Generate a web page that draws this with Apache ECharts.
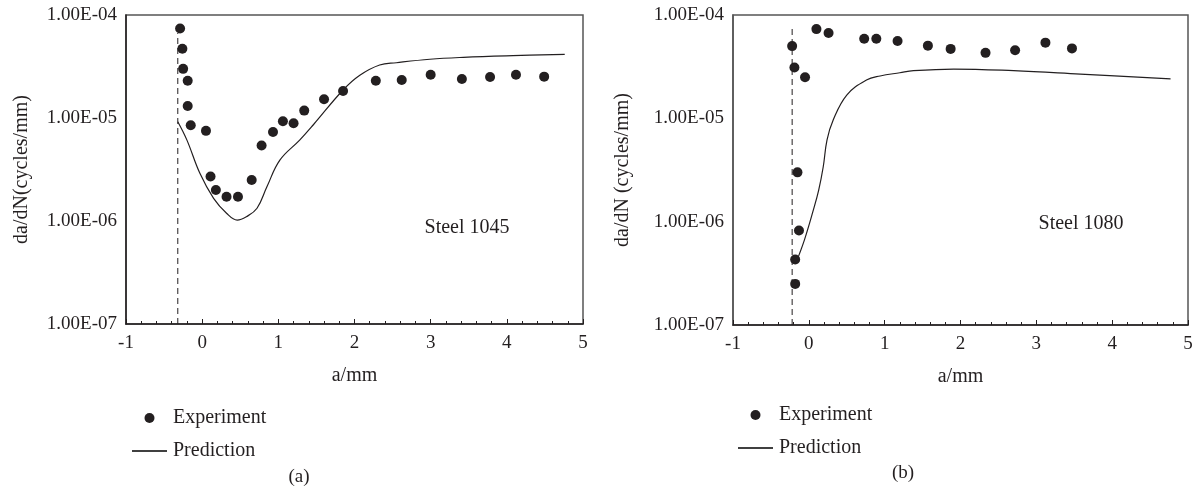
<!DOCTYPE html>
<html>
<head>
<meta charset="utf-8">
<script src="https://cdn.jsdelivr.net/npm/echarts@6/dist/echarts.min.js"></script>
<style>
html,body{margin:0;padding:0;background:#fff;}
#c{width:1202px;height:500px;}
</style>
</head>
<body>
<div id="c"></div>
<script>
// ---- Data ----
const xTickLabels = ['-1','0','1','2','3','4','5'];
const yTickLabels = ['1.00E-07','1.00E-06','1.00E-05','1.00E-04'];

// (a) Steel 1045
const leftExpA = [-0.29,-0.26,-0.25,-0.19,-0.19,-0.15,0.05,0.11,0.18,0.32,0.47,0.65,0.78,0.93,1.06,1.2,1.34,1.6,1.85,2.28,2.62,3.0,3.41,3.78,4.12,4.49];
const leftExpRate = [7.4e-5,4.7e-5,3.0e-5,2.3e-5,1.31e-5,8.5e-6,7.5e-6,2.7e-6,2.0e-6,1.72e-6,1.72e-6,2.5e-6,5.4e-6,7.3e-6,9.3e-6,8.9e-6,1.18e-5,1.52e-5,1.83e-5,2.3e-5,2.34e-5,2.63e-5,2.39e-5,2.5e-5,2.63e-5,2.52e-5];
const leftPredA = [-0.32,-0.2,-0.03,0.15,0.32,0.46,0.58,0.72,0.85,1.02,1.28,1.46,1.85,2.07,2.33,2.55,2.99,3.43,4.08,4.76];
const leftPredRate = [9.2e-6,6.1e-6,2.9e-6,1.66e-6,1.19e-6,1.02e-6,1.1e-6,1.33e-6,2.15e-6,3.9e-6,6.1e-6,8.6e-6,1.87e-5,2.6e-5,3.27e-5,3.44e-5,3.72e-5,3.88e-5,4.03e-5,4.15e-5];
const leftDashA = [-0.32,-0.32];
const leftDashRate = [1e-7,6.7e-5];

// (b) Steel 1080
const rightExpA = [-0.18,-0.18,-0.13,-0.15,-0.19,-0.22,-0.05,0.1,0.26,0.73,0.89,1.17,1.57,1.87,2.33,2.72,3.12,3.47];
const rightExpRate = [2.5e-7,4.3e-7,8.2e-7,3.0e-6,3.1e-5,5.0e-5,2.5e-5,7.3e-5,6.7e-5,5.9e-5,5.9e-5,5.6e-5,5.05e-5,4.7e-5,4.3e-5,4.55e-5,5.4e-5,4.75e-5];
const rightPredA = [-0.17,-0.06,0.06,0.13,0.19,0.24,0.32,0.5,0.76,0.94,1.2,1.38,1.91,2.7,3.58,4.77];
const rightPredRate = [4.0e-7,6.6e-7,1.3e-6,2.02e-6,3.4e-6,6.2e-6,9.6e-6,1.68e-5,2.35e-5,2.57e-5,2.76e-5,2.89e-5,3.0e-5,2.89e-5,2.68e-5,2.41e-5];
const rightDashA = [-0.22,-0.22];
const rightDashRate = [1e-7,7.5e-5];

const seriesNames = ['Experiment','Prediction'];
const panelLabels = ['Steel 1045','Steel 1080'];
const panelTags = ['(a)','(b)'];
const yTitles = ['da/dN(cycles/mm)','da/dN (cycles/mm)'];
const xTitle = 'a/mm';

// ---- Build ----
const FONT = '"Liberation Serif", "Times New Roman", serif';
const INK = '#231f20';
const zip = (a,b) => a.map((v,i)=>[v,b[i]]);

function xAxisCfg(gi){
  return {
    gridIndex: gi, type:'value', min:-1, max:5, interval:1,
    name: xTitle, nameLocation:'middle', nameGap:42,
    nameTextStyle:{fontFamily:FONT,fontSize:20,color:INK},
    axisLine:{onZero:false,lineStyle:{color:INK,width:1.5}},
    axisTick:{inside:true,length:5,lineStyle:{color:INK}},
    minorTick:{show:true,splitNumber:5,length:3,lineStyle:{color:INK}},
    splitLine:{show:false},
    axisLabel:{fontFamily:FONT,fontSize:19,color:INK,margin:10,
      formatter:(v)=>{const i=Math.round(v+1);return xTickLabels[i]!==undefined?xTickLabels[i]:'';}}
  };
}
function yAxisCfg(gi){
  return {
    gridIndex: gi, type:'log', logBase:10, min:1e-7, max:1e-4,
    name: yTitles[gi], nameLocation:'middle', nameGap: gi===0?94:100, nameRotate:90,
    nameTextStyle:{fontFamily:FONT,fontSize:20,color:INK},
    axisLine:{show:true,onZero:false,lineStyle:{color: gi===0?INK:'#555',width:1.5}},
    axisTick:{show:false},
    splitLine:{show:false},
    axisLabel:{fontFamily:FONT,fontSize:19,color:INK,margin:9,
      formatter:(v)=>{const i=Math.round(Math.log10(v))+7;return yTickLabels[i]!==undefined?yTickLabels[i]:'';}}
  };
}
function seriesFor(gi, expA, expR, predA, predR, dashA, dashR){
  return [
    {name:seriesNames[0],type:'scatter',xAxisIndex:gi,yAxisIndex:gi,symbol:'circle',symbolSize:10,
     itemStyle:{color:INK,opacity:1},data:zip(expA,expR),z:5},
    {name:seriesNames[1],type:'line',xAxisIndex:gi,yAxisIndex:gi,symbol:'none',smooth:0.4,
     lineStyle:{color:INK,width:1.2},itemStyle:{color:INK},data:zip(predA,predR),z:4},
    {name:'dash'+gi,type:'line',xAxisIndex:gi,yAxisIndex:gi,symbol:'none',
     lineStyle:{color:INK,width:1,type:[6,4]},data:zip(dashA,dashR),z:3,silent:true}
  ];
}
function legendCfg(left, top){
  return {
    orient:'vertical', left:left, top:top, itemWidth:35, itemHeight:10, itemGap:13,
    data: [
      {name:seriesNames[0], icon:'circle', itemStyle:{color:INK,opacity:1}},
      {name:seriesNames[1], icon:'path://M0,0H35V1.6H0Z', itemStyle:{color:'#000',opacity:1}}
    ],
    selectedMode:false,
    textStyle:{fontFamily:FONT,fontSize:20,color:INK,padding:[0,0,0,1]}
  };
}

const option = {
  animation:false,
  backgroundColor:'#fff',
  grid:[
    {left:126,top:15,width:457,height:309,show:true,borderColor:'#555',borderWidth:1.5,containLabel:false},
    {left:733,top:15,width:455,height:310,show:true,borderColor:'#555',borderWidth:1.5,containLabel:false}
  ],
  xAxis:[xAxisCfg(0),xAxisCfg(1)],
  yAxis:[yAxisCfg(0),yAxisCfg(1)],
  legend:[legendCfg(127,403),legendCfg(733,400)],
  series:[].concat(
    seriesFor(0,leftExpA,leftExpRate,leftPredA,leftPredRate,leftDashA,leftDashRate),
    seriesFor(1,rightExpA,rightExpRate,rightPredA,rightPredRate,rightDashA,rightDashRate)
  ),
  graphic:[
    {type:'text',x:467,y:228,style:{text:panelLabels[0],font:'20px '+FONT,fill:INK,align:'center',verticalAlign:'middle'}},
    {type:'text',x:1081,y:224,style:{text:panelLabels[1],font:'20px '+FONT,fill:INK,align:'center',verticalAlign:'middle'}},
    {type:'text',x:299,y:477,style:{text:panelTags[0],font:'19px '+FONT,fill:INK,align:'center',verticalAlign:'middle'}},
    {type:'text',x:903,y:473,style:{text:panelTags[1],font:'19px '+FONT,fill:INK,align:'center',verticalAlign:'middle'}}
  ]
};
const chart = echarts.init(document.getElementById('c'),null,{renderer:'canvas'});
chart.setOption(option);
</script>
</body>
</html>
